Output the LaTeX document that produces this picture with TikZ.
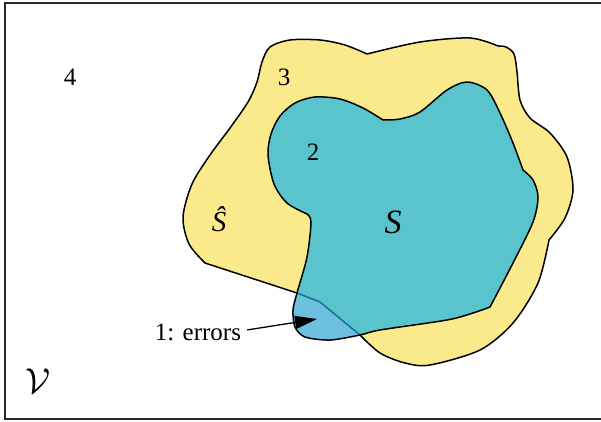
\documentclass[tikz,border=0pt]{standalone}
\usepackage{fontspec}
\setmainfont{Liberation Serif}
\usepackage{xcolor}
\usepackage{graphicx}
\usetikzlibrary{arrows.meta}
\definecolor{shatyellow}{RGB}{251,234,140}
\definecolor{steal}{RGB}{89,196,204}
\definecolor{errblue}{RGB}{110,192,224}
\definecolor{errline}{RGB}{26,110,150}
\definecolor{boxgray}{RGB}{40,40,40}

\begin{document}
\begin{tikzpicture}[x=1pt, y=-1pt,
    lbl/.style={inner sep=0pt, font=\fontsize{25}{30}\selectfont},
    setlbl/.style={inner sep=0pt, font=\fontsize{34}{40}\selectfont\itshape},
    outline/.style={line width=1.5pt, line join=round}]
    \useasboundingbox (0,0) rectangle (601,422);

    % Universe box
    \draw[boxgray, line width=2pt] (5,3) rectangle (620,419);

    % Estimated set
    \path[fill=shatyellow, draw=black, outline] (205,263) -- (297,293) -- (320,302) -- (360,335)
        -- plot[smooth] coordinates {(360,335) (380,353) (405,363) (430,365) (480,350) (513,323) (538,283) (549,240)}
        -- plot[smooth] coordinates {(549,240) (565,218) (573,190) (567,157) (550,133) (530,118) (520,100) (517,72) (514,54) (506,47) (498,46)}
        -- plot[smooth] coordinates {(498,46) (470,38) (420,42) (367,54)}
        -- plot[smooth] coordinates {(367,54) (345,45) (320,40) (290,40) (270,47) (262,62) (257,82) (248,102) (230,128) (210,155) (192,184) (183,217) (189,244) (205,263)}
        -- cycle;

    % True set
    \def\truesetpath{(383,120)
        -- plot[smooth] coordinates {(383,120) (400,119) (420,112) (447,90) (467,82) (487,90) (500,113) (513,143) (523,170)}
        -- plot[smooth] coordinates {(523,170) (533,180) (538,197) (533,222) (513,263) (490,307)}
        -- plot[smooth] coordinates {(490,307) (473,313) (447,320) (380,330) (360,335) (330,340) (305,337) (295,327) (293,310) (297,293) (307,257) (311,222) (307,214)}
        -- plot[smooth] coordinates {(307,214) (287,203) (274,184) (268,155) (271,134) (280,116) (295,103) (315,97) (340,99) (363,108) (383,120)}
        -- cycle}
    \fill[steal] \truesetpath;

    % Error region
    \begin{scope}
        \clip \truesetpath;
        \fill[errblue] (205,263) -- (297,293) -- (320,302) -- (360,335) -- (380,353) -- (380,390) -- (250,390) -- cycle;
        \draw[errline, outline] (205,263) -- (297,293) -- (320,302) -- (360,335) -- (380,353);
    \end{scope}
    \draw[outline] \truesetpath;

    % Labels
    \node[lbl] (four) at (70,77) {4};
    \node[lbl] (three) at (284,77) {3};
    \node[lbl] (two) at (313,152) {2};
    \node[setlbl, font=\fontsize{29}{34}\selectfont\itshape] (shat) at (219,219) {Ŝ};
    \node[setlbl] (strue) at (393,222) {S};
    \node[inner sep=0pt] (univ) at (38,381) {\scalebox{1.45}{\fontsize{24}{28}\selectfont$\mathcal{V}$}};
    \node[lbl, anchor=base] (errlbl) at (198,340) {1: errors};

    % Arrow
    \coordinate (errtip) at (317,319);
    \draw[line width=1.3pt, -{Triangle[length=22pt, width=13pt]}] ([xshift=6pt, yshift=2pt]errlbl.east) -- (errtip);
\end{tikzpicture}
\end{document}
